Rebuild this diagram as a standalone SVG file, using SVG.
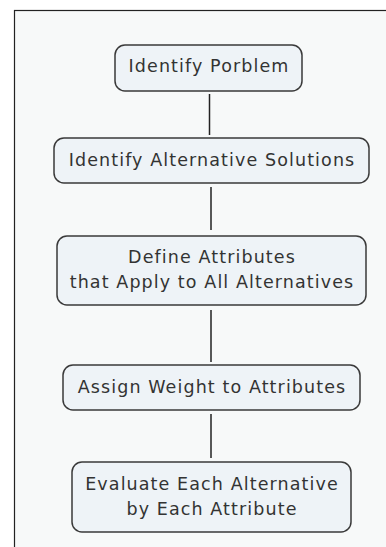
<svg xmlns="http://www.w3.org/2000/svg" width="386" height="547" viewBox="0 0 386 547">
<style>
.node rect{fill:#eef3f7;stroke:#3a3a3a;stroke-width:1.5}
.node text{font-family:"DejaVu Sans",Verdana,sans-serif;font-size:17.5px;letter-spacing:1.1px;fill:#333;text-anchor:middle}
.conn line{stroke:#222;stroke-width:1.5}
</style>
<rect x="0" y="0" width="386" height="547" fill="#fff"/>
<rect x="14.5" y="10.5" width="380" height="545" fill="#f7f9f9" stroke="#222" stroke-width="1.2"/>
<g class="conn">
<line x1="209.5" y1="94" x2="209.5" y2="135"/>
<line x1="211" y1="187" x2="211" y2="230"/>
<line x1="211" y1="310" x2="211" y2="362"/>
<line x1="211" y1="414" x2="211" y2="458"/>
</g>
<g id="n1" class="node"><rect x="115" y="45" width="187" height="46" rx="10"/><text x="209" y="72">Identify Porblem</text></g>
<g id="n2" class="node"><rect x="54" y="138" width="315" height="45" rx="10"/><text x="212" y="166">Identify Alternative Solutions</text></g>
<g id="n3" class="node"><rect x="57" y="236" width="309" height="69" rx="10"/><text x="212" y="263">Define Attributes</text><text x="212" y="288">that Apply to All Alternatives</text></g>
<g id="n4" class="node"><rect x="63" y="365" width="297" height="45" rx="10"/><text x="212" y="393">Assign Weight to Attributes</text></g>
<g id="n5" class="node"><rect x="72" y="462" width="279" height="70" rx="10"/><text x="212" y="490">Evaluate Each Alternative</text><text x="212" y="515">by Each Attribute</text></g>
</svg>
